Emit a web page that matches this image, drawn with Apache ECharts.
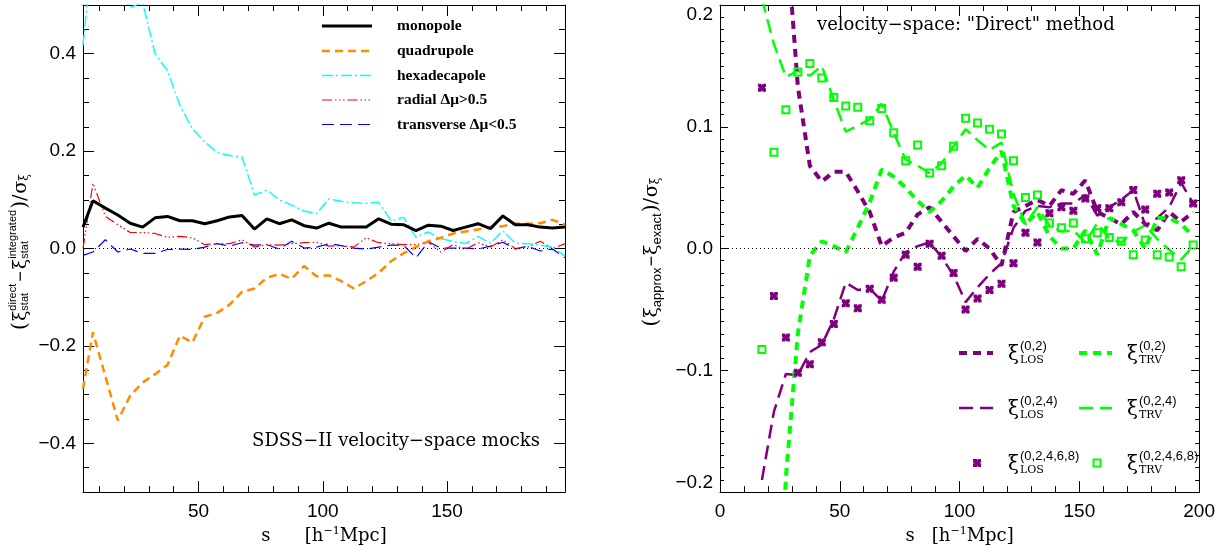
<!DOCTYPE html>
<html>
<head>
<meta charset="utf-8">
<script src="https://cdn.jsdelivr.net/npm/echarts@6.0.0/dist/echarts.min.js"></script>
<style>
  html, body { margin: 0; padding: 0; background: #fff; }
  #chart { width: 1218px; height: 550px; }
</style>
</head>
<body>
<div id="chart"></div>
<script>
// ---- left panel: SDSS-II velocity-space mocks ----
const sLeft = [3.5, 7.5, 12.5, 17.5, 22.5, 27.5, 32.5, 37.5, 42.5, 47.5,
  52.5, 57.5, 62.5, 67.5, 72.5, 77.5, 82.5, 87.5, 92.5, 97.5,
  102.5, 107.5, 112.5, 117.5, 122.5, 127.5, 132.5, 137.5, 142.5, 147.5,
  152.5, 157.5, 162.5, 167.5, 172.5, 177.5, 182.5, 187.5, 192.5, 197.5];
const monopole = [0.044, 0.098, 0.083, 0.069, 0.052, 0.044, 0.063, 0.066, 0.057, 0.057,
  0.051, 0.057, 0.065, 0.068, 0.040, 0.061, 0.051, 0.059, 0.047, 0.042,
  0.052, 0.044, 0.044, 0.044, 0.061, 0.050, 0.049, 0.037, 0.048, 0.046,
  0.037, 0.044, 0.051, 0.041, 0.067, 0.049, 0.049, 0.044, 0.042, 0.044];
const quadrupole = [-0.288, -0.172, -0.262, -0.353, -0.302, -0.275, -0.258, -0.239, -0.179, -0.193,
  -0.140, -0.132, -0.115, -0.089, -0.082, -0.060, -0.052, -0.062, -0.036, -0.057,
  -0.055, -0.067, -0.082, -0.067, -0.050, -0.026, -0.010, 0.003, 0.015, 0.022,
  0.031, 0.035, 0.039, 0.044, 0.046, 0.051, 0.051, 0.052, 0.059, 0.049];
const hexadecapole = [0.417, 0.62, 0.58, 0.53, 0.495, 0.505, 0.400, 0.365, 0.294, 0.246,
  0.219, 0.197, 0.191, 0.188, 0.110, 0.120, 0.100, 0.089, 0.077, 0.072,
  0.102, 0.097, 0.094, 0.093, 0.095, 0.057, 0.064, 0.023, 0.034, 0.020,
  0.015, 0.010, 0.025, 0.011, 0.036, 0.011, 0.010, 0.007, 0.003, -0.015];
const radial = [0.000, 0.134, 0.066, 0.049, 0.033, 0.033, 0.031, 0.023, 0.025, 0.022,
  0.008, 0.010, 0.010, 0.018, 0.003, 0.008, 0.007, 0.010, 0.012, 0.013,
  0.005, 0.006, 0.003, 0.022, 0.012, 0.010, 0.008, 0.008, 0.013, -0.007,
  0.008, -0.002, 0.012, 0.003, 0.018, 0.000, 0.003, 0.015, 0.000, 0.010];
const transverse = [-0.014, -0.007, 0.018, -0.007, -0.001, -0.010, -0.010, -0.002, -0.001, -0.002,
  0.003, 0.010, 0.005, 0.012, 0.007, 0.008, -0.001, 0.015, 0.001, 0.003,
  0.010, 0.006, 0.001, -0.001, 0.003, 0.007, 0.007, -0.019, 0.014, 0.001,
  0.001, 0.001, -0.001, 0.005, 0.013, -0.001, 0.005, -0.005, -0.001, -0.019];

// ---- right panel: velocity-space "Direct" method ----
const sRight = [17.5, 22.5, 27.5, 32.5, 37.5, 42.5, 47.5, 52.5, 57.5, 62.5,
  67.5, 72.5, 77.5, 82.5, 87.5, 92.5, 97.5, 102.5, 107.5, 112.5,
  117.5, 122.5, 127.5, 132.5, 137.5, 142.5, 147.5, 152.5, 157.5, 162.5,
  167.5, 172.5, 177.5, 182.5, 187.5, 192.5, 197.5];
const los02 = [0.60, 0.42, 0.264, 0.133, 0.068, 0.055, 0.063, 0.063, 0.047, 0.030,
  0.002, 0.009, 0.013, 0.028, 0.034, 0.022, 0.010, -0.002, 0.008, 0.000,
  -0.014, 0.030, 0.035, 0.040, 0.035, 0.048, 0.045, 0.056, 0.030, 0.025,
  0.020, 0.030, 0.020, 0.015, 0.030, 0.022, 0.030];
const los024 = [-0.190, -0.134, -0.103, -0.104, -0.085, -0.079, -0.058, -0.028, -0.034, -0.033,
  -0.043, -0.019, -0.003, 0.002, 0.005, -0.007, -0.022, -0.044, -0.032, -0.021,
  -0.012, 0.017, 0.031, 0.035, 0.034, 0.037, 0.037, 0.044, 0.027, 0.034,
  0.040, 0.048, 0.019, 0.025, 0.034, 0.054, 0.037];
const los02468 = [0.132, -0.039, -0.073, -0.102, -0.095, -0.077, -0.062, -0.045, -0.049, -0.033,
  -0.042, -0.024, -0.005, -0.015, 0.004, -0.006, -0.020, -0.050, -0.041, -0.034,
  -0.029, -0.012, 0.013, 0.005, 0.029, 0.034, 0.031, 0.041, 0.033, 0.033,
  0.038, 0.048, 0.032, 0.045, 0.046, 0.056, 0.037];
const trv02 = [-0.60, -0.40, -0.188, -0.070, -0.006, 0.006, 0.002, -0.003, 0.017, 0.038,
  0.065, 0.059, 0.050, 0.039, 0.030, 0.039, 0.051, 0.060, 0.050, 0.066,
  0.080, 0.035, 0.020, 0.030, 0.010, 0.000, 0.000, 0.015, -0.005, 0.025,
  0.020, 0.015, 0.000, 0.025, 0.025, 0.020, 0.010];
const trv024 = [0.205, 0.168, 0.141, 0.146, 0.142, 0.150, 0.122, 0.096, 0.101, 0.106,
  0.119, 0.095, 0.073, 0.068, 0.062, 0.070, 0.084, 0.098, 0.089, 0.081,
  0.087, 0.045, 0.020, 0.034, 0.019, 0.014, 0.015, 0.005, 0.021, 0.008,
  0.005, 0.014, 0.019, 0.008, -0.001, -0.009, 0.002];
const trv02468 = [-0.083, 0.079, 0.114, 0.145, 0.152, 0.140, 0.124, 0.117, 0.116, 0.105,
  0.115, 0.095, 0.072, 0.085, 0.062, 0.068, 0.084, 0.107, 0.103, 0.098,
  0.094, 0.072, 0.042, 0.044, 0.021, 0.017, 0.021, 0.008, 0.013, 0.009,
  0.006, -0.005, 0.007, -0.005, -0.007, -0.015, 0.003];

// tick values
const xMajorLeft = [50, 100, 150];
const xMinorLeft = [10, 20, 30, 40, 50, 60, 70, 80, 90, 100, 110, 120, 130, 140, 150, 160, 170, 180, 190];
const yMajorLeft = [-0.4, -0.2, 0, 0.2, 0.4];
const yMinorLeft = [-0.45, -0.4, -0.35, -0.3, -0.25, -0.2, -0.15, -0.1, -0.05, 0,
  0.05, 0.1, 0.15, 0.2, 0.25, 0.3, 0.35, 0.4, 0.45];

const NUM = 'Liberation Sans';
const SERIF = 'DejaVu Serif';
const PURPLE = '#7f007f';
const GREEN = '#00ff00';

const styleLeft = {
  monopole:   { label: 'monopole',          color: '#000000', width: 3,   dash: 'solid' },
  quadrupole: { label: 'quadrupole',        color: '#ff8c00', width: 2.5, dash: [8, 5] },
  hexa:       { label: 'hexadecapole',      color: '#00ffff', width: 1.4, dash: [11, 3, 2, 3] },
  radial:     { label: 'radial Δμ>0.5',     color: '#ff0000', width: 1.2, dash: [10, 3, 1.5, 2.5, 1.5, 2.5, 1.5, 3] },
  transverse: { label: 'transverse Δμ<0.5', color: '#0000ff', width: 1.2, dash: [12, 6] }
};
const shortDash = [8, 6], longDash = [14, 7];

function fmt(v) {
  if (Math.abs(v) < 1e-9) return '0.0';
  return (v < 0 ? '\u2212' : '') + Math.abs(v).toFixed(1);
}

function pairs(xs, ys) {
  return xs.map(function (x, i) { return [x, ys[i]]; });
}

function lineSeries(xs, ys, st, axisIdx, z) {
  return {
    type: 'line', xAxisIndex: axisIdx, yAxisIndex: axisIdx,
    data: pairs(xs, ys), symbol: 'none', silent: true, z: z || 2,
    lineStyle: { color: st.color, width: st.width, type: st.dash }
  };
}

function zeroLine() {
  return {
    silent: true, symbol: ['none', 'none'], label: { show: false },
    lineStyle: { color: '#000', width: 1, type: [1, 3] },
    data: [{ yAxis: 0 }]
  };
}

// axis with custom tick positions (left panel)
function tickAxis(gi, pos, min, max, vals, len, label) {
  return {
    gridIndex: gi, type: 'value', position: pos, min: min, max: max,
    axisLine: { show: true, onZero: false, lineStyle: { color: '#000', width: 1 } },
    axisTick: { show: true, inside: true, length: len, customValues: vals, lineStyle: { color: '#000', width: 1 } },
    axisLabel: label ? Object.assign({ customValues: vals, color: '#000', fontFamily: NUM, fontSize: 19, formatter: label.fmt }, label.opt) : { show: false },
    splitLine: { show: false }
  };
}

// axis with regular ticks + minor ticks (right panel)
function regAxis(gi, pos, min, max, interval, len, minorSplit, minorLen, label) {
  return {
    gridIndex: gi, type: 'value', position: pos, min: min, max: max, interval: interval,
    axisLine: { show: true, onZero: false, lineStyle: { color: '#000', width: 1 } },
    axisTick: { show: true, inside: true, length: len, lineStyle: { color: '#000', width: 1 } },
    minorTick: { show: true, splitNumber: minorSplit, length: minorLen, lineStyle: { color: '#000', width: 1 } },
    axisLabel: label ? Object.assign({ color: '#000', fontFamily: NUM, fontSize: 19, formatter: label.fmt }, label.opt) : { show: false },
    splitLine: { show: false }, minorSplitLine: { show: false }
  };
}

const xName = {
  nameLocation: 'middle', nameGap: 31,
  nameTextStyle: {
    color: '#000',
    rich: {
      s: { fontFamily: SERIF, fontSize: 18, color: '#000', lineHeight: 20 },
      up: { fontFamily: SERIF, fontSize: 11, color: '#000', verticalAlign: 'top', lineHeight: 20 },
      t: { fontFamily: SERIF, fontSize: 18, color: '#000', lineHeight: 20 }
    }
  }
};

const xAxes = [
  Object.assign(tickAxis(0, 'bottom', 3.5, 197.5, xMajorLeft, 11, { fmt: function (v) { return String(v); }, opt: { margin: 10 } }),
    xName, { name: '{s|s}{t|      [h}{up|\u22121}{t|Mpc]}' }),
  Object.assign(tickAxis(0, 'bottom', 3.5, 197.5, xMinorLeft, 6), { axisLine: { show: false, onZero: false } }),
  tickAxis(0, 'top', 3.5, 197.5, xMajorLeft, 11),
  Object.assign(tickAxis(0, 'top', 3.5, 197.5, xMinorLeft, 6), { axisLine: { show: false, onZero: false } }),
  Object.assign(regAxis(1, 'bottom', 0, 200, 50, 11, 5, 6, { fmt: function (v) { return String(v); }, opt: { margin: 10 } }),
    xName, { name: '{s|s}{t|   [h}{up|\u22121}{t|Mpc]}' }),
  regAxis(1, 'top', 0, 200, 50, 11, 5, 6)
];

const yAxes = [
  tickAxis(0, 'left', -0.5, 0.5, yMajorLeft, 11, { fmt: fmt, opt: { margin: 7 } }),
  Object.assign(tickAxis(0, 'left', -0.5, 0.5, yMinorLeft, 6), { axisLine: { show: false, onZero: false } }),
  tickAxis(0, 'right', -0.5, 0.5, yMajorLeft, 11),
  Object.assign(tickAxis(0, 'right', -0.5, 0.5, yMinorLeft, 6), { axisLine: { show: false, onZero: false } }),
  regAxis(1, 'left', -0.2, 0.2, 0.1, 8, 10, 4, { fmt: fmt, opt: { margin: 7, verticalAlignMaxLabel: 'top', verticalAlignMinLabel: 'bottom' } }),
  regAxis(1, 'right', -0.2, 0.2, 0.1, 8, 10, 4)
];

// chunky "x" marker: a square with notches cut into each side
const crossPath = 'path://M0,0 L4,0 L5,1.8 L6,0 L10,0 L10,4 L8.2,5 L10,6 L10,10 L6,10 L5,8.2 L4,10 L0,10 L0,6 L1.8,5 L0,4 Z';

const leftSeries = [
  Object.assign(lineSeries(sLeft, transverse, styleLeft.transverse, 0, 2), { markLine: zeroLine() }),
  lineSeries(sLeft, radial, styleLeft.radial, 0, 2),
  lineSeries(sLeft, hexadecapole, styleLeft.hexa, 0, 3),
  lineSeries(sLeft, quadrupole, styleLeft.quadrupole, 0, 4),
  lineSeries(sLeft, monopole, styleLeft.monopole, 0, 5)
];

const rightSeries = [
  Object.assign(lineSeries(sRight, los024, { color: PURPLE, width: 2.5, dash: longDash }, 4, 2), { markLine: zeroLine() }),
  lineSeries(sRight, trv024, { color: GREEN, width: 2.5, dash: longDash }, 4, 2),
  lineSeries(sRight, los02, { color: PURPLE, width: 4, dash: shortDash }, 4, 3),
  lineSeries(sRight, trv02, { color: GREEN, width: 4, dash: shortDash }, 4, 3),
  {
    type: 'scatter', xAxisIndex: 4, yAxisIndex: 4, data: pairs(sRight, los02468), silent: true, z: 4,
    symbol: crossPath, symbolSize: 8, itemStyle: { color: PURPLE, opacity: 1 }
  },
  {
    type: 'scatter', xAxisIndex: 4, yAxisIndex: 4, data: pairs(sRight, trv02468), silent: true, z: 4,
    symbol: 'rect', symbolSize: 7, itemStyle: { color: 'rgba(255,255,255,0)', borderColor: GREEN, borderWidth: 2, opacity: 1 }
  }
];

// ---- text helpers for stacked sub/superscripts ----
const mctx = document.createElement('canvas').getContext('2d');
function tw(t, size, fam, weight) {
  mctx.font = (weight || 'normal') + ' ' + size + 'px "' + fam + '"';
  return mctx.measureText(t).width;
}
function txt(t, x, y, size, fam, weight, align) {
  return {
    type: 'text', x: x, y: y, silent: true,
    style: { text: t, fontSize: size, fontFamily: fam, fontWeight: weight || 'normal', fill: '#000',
      align: align || 'left', verticalAlign: 'middle', textAlign: align || 'left', textVerticalAlign: 'middle' }
  };
}
// parts: {t,size,fam,dy,gap} or {sup,sub,size,fam,supDy,subDy,gap}
function buildParts(parts) {
  let x = 0;
  const out = [];
  parts.forEach(function (p) {
    if (p.t !== undefined) {
      out.push(txt(p.t, x, p.dy || 0, p.size, p.fam, p.weight));
      x += tw(p.t, p.size, p.fam, p.weight) + (p.gap || 0);
    } else {
      let w = 0;
      if (p.sup) { out.push(txt(p.sup, x, p.supDy, p.size, p.fam, p.weight)); w = Math.max(w, tw(p.sup, p.size, p.fam, p.weight)); }
      if (p.sub) { out.push(txt(p.sub, x, p.subDy, p.subSize || p.size, p.subFam || p.fam, p.weight)); w = Math.max(w, tw(p.sub, p.subSize || p.size, p.subFam || p.fam, p.weight)); }
      x += w + (p.gap || 0);
    }
  });
  return { children: out, width: x };
}
function verticalLabel(parts, cx, cy) {
  const b = buildParts(parts);
  b.children.forEach(function (c) { c.x -= b.width / 2; });
  return { type: 'group', x: cx, y: cy, rotation: Math.PI / 2, children: b.children };
}
function placed(parts, x, y) {
  const b = buildParts(parts);
  return { type: 'group', x: x, y: y, children: b.children };
}

const leftYLabel = verticalLabel([
  { t: '(', size: 20, fam: SERIF, gap: 1 },
  { t: 'ξ', size: 19, fam: SERIF },
  { sup: 'direct', sub: 'stat', size: 11, fam: NUM, supDy: -8, subDy: 4, gap: 2 },
  { t: '\u2212', size: 18, fam: NUM, gap: 2 },
  { t: 'ξ', size: 19, fam: SERIF },
  { sup: 'integrated', sub: 'stat', size: 11, fam: NUM, supDy: -8, subDy: 4, gap: 1 },
  { t: ')', size: 20, fam: SERIF },
  { t: '/', size: 19, fam: SERIF, gap: 1 },
  { t: 'σ', size: 19, fam: SERIF },
  { sub: 'ξ', size: 12, fam: SERIF, subDy: 4 }
], 21, 252);

const rightYLabel = verticalLabel([
  { t: '(', size: 20, fam: SERIF, gap: 1 },
  { t: 'ξ', size: 19, fam: SERIF },
  { sub: 'approx', size: 13, fam: NUM, subDy: 5, gap: 1 },
  { t: '\u2212', size: 18, fam: NUM, gap: 1 },
  { t: 'ξ', size: 19, fam: SERIF },
  { sub: 'exact', size: 13, fam: NUM, subDy: 5, gap: 1 },
  { t: ')', size: 20, fam: SERIF },
  { t: '/', size: 19, fam: SERIF, gap: 1 },
  { t: 'σ', size: 19, fam: SERIF },
  { sub: 'ξ', size: 12, fam: SERIF, subDy: 4 }
], 652, 252);

function xiLabel(sup, sub, x, y) {
  return placed([
    { t: 'ξ', size: 20, fam: SERIF, dy: 2, gap: 1 },
    { sup: sup, sub: sub, size: 13, fam: NUM, subFam: SERIF, subSize: 11, supDy: -7, subDy: 7 }
  ], x, y);
}

function legLine(x1, x2, y, color, width, dash) {
  return {
    type: 'line', silent: true, shape: { x1: x1, y1: y, x2: x2, y2: y },
    style: { stroke: color, lineWidth: width, lineDash: dash === 'solid' ? null : dash }
  };
}

const leftLegendRows = [styleLeft.monopole, styleLeft.quadrupole, styleLeft.hexa, styleLeft.radial, styleLeft.transverse];
const leftLegendY = [26, 51, 75.5, 100, 124.5];
const legendLeft = [];
leftLegendRows.forEach(function (st, i) {
  legendLeft.push(legLine(322, 372, leftLegendY[i], st.color, st.width, st.dash));
  legendLeft.push(txt(st.label, 397, leftLegendY[i], 15.5, 'Liberation Serif', 'bold'));
});

const rowsR = [353, 408, 463];
const legendRight = [
  legLine(959, 993, rowsR[0], PURPLE, 4, shortDash),
  legLine(1079, 1112, rowsR[0], GREEN, 4, shortDash),
  legLine(959, 993, rowsR[1], PURPLE, 2.5, longDash),
  legLine(1079, 1112, rowsR[1], GREEN, 2.5, longDash),
  { type: 'polygon', silent: true, shape: { points: [[973, 459], [977, 459], [977.5, 460.5], [978, 459], [981, 459], [981, 462.5], [979.5, 463], [981, 463.5], [981, 467], [978, 467], [977.5, 465.5], [977, 467], [973, 467], [973, 463.5], [974.5, 463], [973, 462.5]] }, style: { fill: PURPLE } },
  { type: 'rect', silent: true, shape: { x: 1093.5, y: 459.5, width: 7, height: 7 }, style: { fill: 'none', stroke: GREEN, lineWidth: 2 } },
  xiLabel('(0,2)', 'LOS', 1008, rowsR[0]),
  xiLabel('(0,2)', 'TRV', 1127, rowsR[0]),
  xiLabel('(0,2,4)', 'LOS', 1008, rowsR[1]),
  xiLabel('(0,2,4)', 'TRV', 1127, rowsR[1]),
  xiLabel('(0,2,4,6,8)', 'LOS', 1008, rowsR[2]),
  xiLabel('(0,2,4,6,8)', 'TRV', 1127, rowsR[2])
];

const chart = echarts.init(document.getElementById('chart'), null, { renderer: 'canvas' });
chart.setOption({
  animation: false,
  backgroundColor: '#ffffff',
  grid: [
    { left: 83, top: 5, width: 482, height: 490 },
    { left: 720, top: 5, width: 482, height: 490 }
  ],
  xAxis: xAxes,
  yAxis: yAxes,
  series: leftSeries.concat(rightSeries),
  graphic: [
    txt('SDSS\u2212II velocity\u2212space mocks', 540, 441, 18, SERIF, 'normal', 'right'),
    txt('velocity\u2212space: "Direct" method', 817, 25, 18, SERIF),
    leftYLabel, rightYLabel
  ].concat(legendLeft, legendRight)
});
window.addEventListener('resize', function () { chart.resize(); });
</script>
</body>
</html>
